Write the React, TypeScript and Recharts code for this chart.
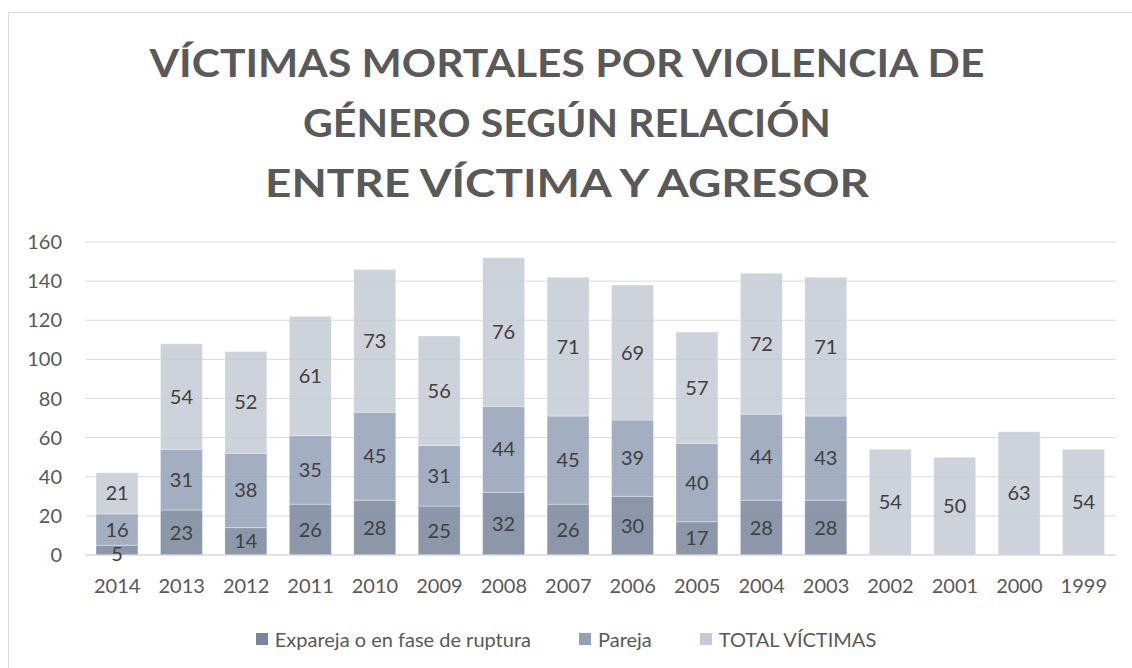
import { BarChart, Bar, XAxis, YAxis, CartesianGrid, Legend, LabelList } from "recharts";

const anios = ["2014", "2013", "2012", "2011", "2010", "2009", "2008", "2007", "2006", "2005", "2004", "2003", "2002", "2001", "2000", "1999"];
const expareja = [5, 23, 14, 26, 28, 25, 32, 26, 30, 17, 28, 28, 0, 0, 0, 0];
const pareja = [16, 31, 38, 35, 45, 31, 44, 45, 39, 40, 44, 43, 0, 0, 0, 0];
const totalVictimas = [21, 54, 52, 61, 73, 56, 76, 71, 69, 57, 72, 71, 54, 50, 63, 54];
const ticksY = [0, 20, 40, 60, 80, 100, 120, 140, 160];
const titulo = ["VÍCTIMAS MORTALES POR VIOLENCIA DE", "GÉNERO SEGÚN RELACIÓN", "ENTRE VÍCTIMA Y AGRESOR"];
const anchoTitulo = [835, 528, 604];

const data = anios.map((anio, i) => ({
  anio,
  expareja: expareja[i],
  pareja: pareja[i],
  total: totalVictimas[i],
}));

const fuente = "Lato, 'Open Sans', sans-serif";
const gris = "#595959";

// etiqueta centrada; en segmentos muy bajos se baja un poco (como Excel)
function Etiqueta(props: any) {
  const { x, y, width, height, value } = props;
  if (!value) return null;
  const h = Math.abs(height);
  const cy = y + height / 2 + (h < 16 ? 4 : 0);
  return (
    <text x={x + width / 2} y={cy} dy="0.35em" textAnchor="middle" fill="#404040" fontSize={20} fontFamily={fuente}>
      {value}
    </text>
  );
}

function LeyendaCustom({ payload }: any) {
  return (
    <div style={{ display: "flex", justifyContent: "center", gap: 48, fontFamily: fuente, fontSize: 20, lineHeight: "24px", color: gris }}>
      {(payload || []).map((p: any) => (
        <div key={p.value} style={{ display: "flex", alignItems: "center" }}>
          <span style={{ width: 12, height: 12, background: p.color, display: "inline-block", marginRight: 7 }} />
          <span>{p.value}</span>
        </div>
      ))}
    </div>
  );
}

export default function App() {
  return (
    <div style={{ position: "absolute", left: 0, top: 0, width: 1132, height: 668, overflow: "hidden", background: "#fff" }}>
      <div style={{ position: "absolute", left: 8, top: 12, width: 1200, height: 800, border: "1px solid #d9d9d9" }} />
      <svg style={{ position: "absolute", left: 0, top: 0 }} width={1132} height={220}>
        {titulo.map((t, i) => (
          <text
            key={t}
            x={567}
            y={77 + i * 60}
            textAnchor="middle"
            textLength={anchoTitulo[i]}
            lengthAdjust="spacingAndGlyphs"
            style={{ fontFamily: fuente, fontWeight: 700, fontSize: 39, fill: gris }}
          >
            {t}
          </text>
        ))}
      </svg>
      <div style={{ position: "absolute", left: 0, top: 0 }}>
        <BarChart width={1132} height={668} data={data} margin={{ top: 242, right: 16, bottom: 83, left: 25 }} barSize={42}>
          <CartesianGrid vertical={false} stroke="#d9d9d9" />
          <XAxis
            dataKey="anio"
            height={30}
            tickLine={false}
            axisLine={{ stroke: "#d9d9d9" }}
            tickMargin={18}
            tick={{ fill: gris, fontSize: 20, fontFamily: fuente }}
            interval={0}
          />
          <YAxis
            width={60}
            domain={[0, 160]}
            ticks={ticksY}
            tickLine={false}
            axisLine={false}
            tickMargin={17}
            tick={{ fill: gris, fontSize: 20, fontFamily: fuente }}
          />
          <Legend
            layout="vertical"
            align="center"
            verticalAlign="middle"
            wrapperStyle={{ left: 0, top: 627, width: 1132 }}
            content={<LeyendaCustom />}
          />
          <Bar dataKey="expareja" name="Expareja o en fase de ruptura" stackId="a" fill="#79859b" fillOpacity={0.85} stroke="#ffffff" strokeOpacity={0.35} strokeWidth={1} isAnimationActive={false}>
            <LabelList dataKey="expareja" content={<Etiqueta />} />
          </Bar>
          <Bar dataKey="pareja" name="Pareja" stackId="a" fill="#94a0b6" fillOpacity={0.85} stroke="#ffffff" strokeOpacity={0.35} strokeWidth={1} isAnimationActive={false}>
            <LabelList dataKey="pareja" content={<Etiqueta />} />
          </Bar>
          <Bar dataKey="total" name="TOTAL VÍCTIMAS" stackId="a" fill="#c4cad5" fillOpacity={0.85} stroke="#ffffff" strokeOpacity={0.35} strokeWidth={1} isAnimationActive={false}>
            <LabelList dataKey="total" content={<Etiqueta />} />
          </Bar>
        </BarChart>
      </div>
    </div>
  );
}
